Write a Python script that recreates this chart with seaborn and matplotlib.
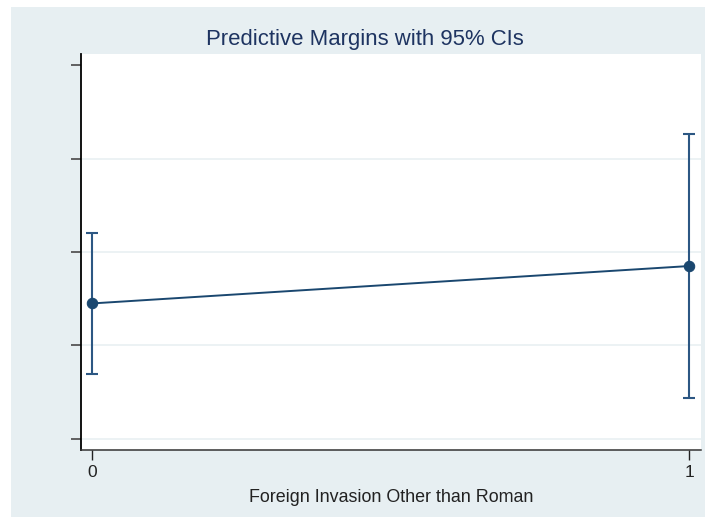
import matplotlib
matplotlib.use("Agg")
import matplotlib.pyplot as plt
import seaborn as sns
import pandas as pd
from matplotlib.patches import Rectangle

# Predictive margins and 95% confidence limits
invasion = [0, 1]
margin = [0.145, 0.185]
ci_low = [0.070, 0.044]
ci_high = [0.220, 0.326]
y_ticks = [0.0, 0.1, 0.2, 0.3, 0.4]
x_ticks = [0, 1]

df = pd.DataFrame({"invasion": invasion, "margin": margin,
                   "lo": ci_low, "hi": ci_high})

sns.set_theme(style="white")
plt.rcParams["font.family"] = ["Liberation Sans", "DejaVu Sans"]

navy = "#1a476f"
region = "#e7eff2"

fig = plt.figure(figsize=(7.05, 5.17), dpi=100)
fig.patch.set_facecolor("white")
fig.patches.append(Rectangle((11 / 705, 0), 1 - 11 / 705, 1 - 7 / 517,
                             transform=fig.transFigure, facecolor=region,
                             edgecolor="none", zorder=-10))
ax = fig.add_axes([81 / 705, (517 - 450) / 517, 620 / 705, 396 / 517])
ax.set_facecolor("white")

ax.errorbar(df["invasion"], df["margin"],
            yerr=[df["margin"] - df["lo"], df["hi"] - df["margin"]],
            fmt="none", ecolor="#2c5783", elinewidth=1.5, capsize=4,
            capthick=1.5, zorder=2)
sns.lineplot(data=df, x="invasion", y="margin", ax=ax, color=navy,
             linewidth=1.4, marker="o", markersize=7.5,
             markeredgecolor=navy, markerfacecolor=navy, zorder=3)

ax.set_xlim(-0.019, 1.0196)
ax.set_ylim(-0.0118, 0.4118)
ax.set_xticks(x_ticks)
ax.set_xticklabels([str(t) for t in x_ticks], fontsize=12.5, color="#222222")
ax.set_yticks(y_ticks)
ax.set_yticklabels([])
for t in y_ticks[:-1]:
    ax.axhline(t, color="#e9f0f2", linewidth=1.2, zorder=0)

ax.tick_params(axis="y", length=7, width=1.3, color="#555555", left=True)
ax.tick_params(axis="x", length=7, width=1, color="#222222", bottom=True,
               pad=4)

for side in ["top", "right"]:
    ax.spines[side].set_visible(False)
ax.spines["left"].set_color("black")
ax.spines["left"].set_linewidth(1.3)
ax.spines["bottom"].set_color("#333333")
ax.spines["bottom"].set_linewidth(1.1)

ax.set_xlabel("Foreign Invasion Other than Roman", fontsize=12.9,
              color="#222222", labelpad=6)
ax.set_ylabel("")
fig.text(365 / 705, 1 - 40 / 517, "Predictive Margins with 95% CIs",
         ha="center", va="center", fontsize=15.9, color="#1e3461")

fig.savefig("out.png", dpi=100, facecolor=fig.get_facecolor())
